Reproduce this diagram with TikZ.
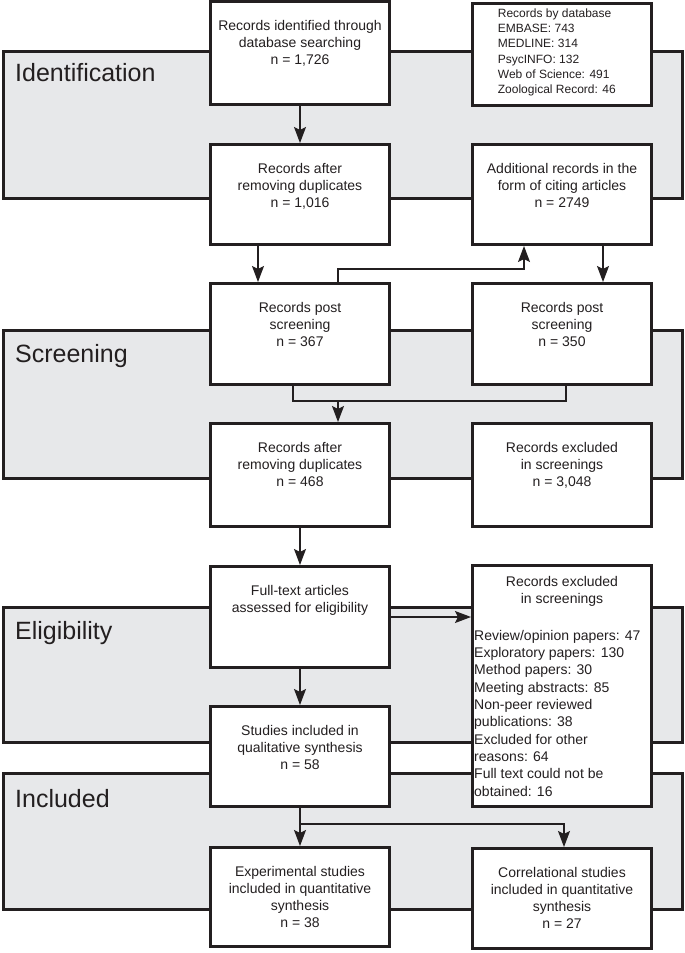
\documentclass[tikz,border=0pt]{standalone}
\usepackage{fontspec}
\setmainfont{Liberation Sans}
\usepackage{tikz}
\usetikzlibrary{arrows.meta}
\usetikzlibrary{positioning}
\definecolor{bandgray}{RGB}{231,232,234}
\definecolor{inkgray}{RGB}{35,31,32}

\tikzset{
  box/.style={draw=inkgray, line width=2.6pt, fill=white, minimum width=179.4pt, inner sep=0pt},
  band/.style={draw=inkgray, line width=2.6pt, fill=bandgray},
  txt/.style={align=center, inner sep=0pt, font=\fontsize{14}{17}\selectfont, text=inkgray},
  stagelbl/.style={anchor=base west, inner sep=0pt, font=\fontsize{25}{30}\selectfont, text=inkgray},
  arr/.style={line width=1.1pt, draw=inkgray, -{Stealth[length=16pt,width=12pt,inset=3pt]}},
  joinline/.style={line width=1.1pt, draw=inkgray},
}

\begin{document}
\begin{tikzpicture}[x=1pt,y=-1pt]
  \useasboundingbox (0,0) rectangle (685,953);

  % stage bands
  \draw[band] (3.3,51.3) rectangle (682.7,198.7);
  \draw[band] (3.3,330.3) rectangle (682.7,478.7);
  \draw[band] (3.3,607.3) rectangle (682.7,742.7);
  \draw[band] (3.3,773.3) rectangle (682.7,909.7);
  \node[stagelbl] (s-id) at (15,81.5) {Identification};
  \node[stagelbl] (s-scr) at (15,362) {Screening};
  \node[stagelbl] (s-eli) at (15,639) {Eligibility};
  \node[stagelbl] (s-inc) at (15,807) {Included};

  % boxes
  \node[box, minimum height=103.4pt] (id) at (300,53) {};
  \node[box, minimum height=102.4pt] (db) at (562,54.5) {};
  \node[box, minimum height=100.4pt] (dup1) at (300,194.5) {};
  \node[box, minimum height=100.4pt] (cite) at (562,194.5) {};
  \node[box, minimum height=101.4pt] (post1) at (300,334) {};
  \node[box, minimum height=101.4pt] (post2) at (562,334) {};
  \node[box, minimum height=103.4pt] (dup2) at (300,475) {};
  \node[box, minimum height=103.4pt] (excl1) at (562,475) {};
  \node[box, minimum height=101.4pt] (full) at (300,617) {};
  \node[box, minimum height=241.4pt] (excl2) at (562,686) {};
  \node[box, minimum height=100.4pt] (qual) at (300,756.5) {};
  \node[box, minimum height=99.4pt] (exp) at (300,897) {};
  \node[box, minimum height=100.4pt] (corr) at (562,898.5) {};

  % box texts
  \node[txt, below=20pt of id.north] (id-t) {Records identified through\\database searching\\n = 1,726};
  \node[txt, align=left, font=\fontsize{12}{15.3}\selectfont, anchor=north west] (db-t)
    at ([xshift=26.7pt,yshift=-6.3pt]db.north west)
    {Records by database\\EMBASE: 743\\MEDLINE: 314\\PsycINFO: 132\\Web of Science: 491\\Zoological Record: 46};
  \node[txt, below=20pt of dup1.north] (dup1-t) {Records after\\removing duplicates\\n = 1,016};
  \node[txt, below=20pt of cite.north] (cite-t) {Additional records in the\\form of citing articles\\n = 2749};
  \node[txt, below=20pt of post1.north] (post1-t) {Records post\\screening\\n = 367};
  \node[txt, below=20pt of post2.north] (post2-t) {Records post\\screening\\n = 350};
  \node[txt, below=20pt of dup2.north] (dup2-t) {Records after\\removing duplicates\\n = 468};
  \node[txt, below=20pt of excl1.north] (excl1-t) {Records excluded\\in screenings\\n = 3,048};
  \node[txt, below=20pt of full.north] (full-t) {Full-text articles\\assessed for eligibility};
  \node[txt, below=11.8pt of excl2.north] (excl2-h) {Records excluded\\in screenings};
  \node[txt, align=left, font=\fontsize{14}{17.3}\selectfont, anchor=north west] (excl2-l)
    at ([xshift=3pt,yshift=-66pt]excl2.north west)
    {Review/opinion papers: 47\\Exploratory papers: 130\\Method papers: 30\\Meeting abstracts: 85\\Non-peer reviewed\\publications: 38\\Excluded for other\\reasons: 64\\Full text could not be\\obtained: 16};
  \node[txt, below=20pt of qual.north] (qual-t) {Studies included in\\qualitative synthesis\\n = 58};
  \node[txt, below=20pt of exp.north] (exp-t) {Experimental studies\\included in quantitative\\synthesis\\n = 38};
  \node[txt, below=20pt of corr.north] (corr-t) {Correlational studies\\included in quantitative\\synthesis\\n = 27};

  % connectors
  \coordinate (back) at (430,269);
  \coordinate (merge) at (430,401);
  \coordinate (mergedown) at (338,401);
  \coordinate (split) at (300,824);

  \draw[arr] (id.south) -- (dup1.north);
  \draw[arr] ([xshift=-42pt]dup1.south) -- ([xshift=-42pt]post1.north);
  \draw[arr] ([xshift=41pt]cite.south) -- ([xshift=41pt]post2.north);
  \draw[arr] ([xshift=38pt]post1.north) |- (back) -| ([xshift=-38pt]cite.south);
  \draw[joinline] ([xshift=-7pt]post1.south) |- (merge) -| ([xshift=4pt]post2.south);
  \draw[arr] (mergedown) -- ([xshift=38pt]dup2.north);
  \draw[arr] (dup2.south) -- (full.north);
  \draw[arr] (full.east) -- (full.east -| excl2.west);
  \draw[arr] (full.south) -- (qual.north);
  \draw[arr] (qual.south) -- (exp.north);
  \draw[arr] (split) -| ([xshift=2pt]corr.north);
\end{tikzpicture}
\end{document}
